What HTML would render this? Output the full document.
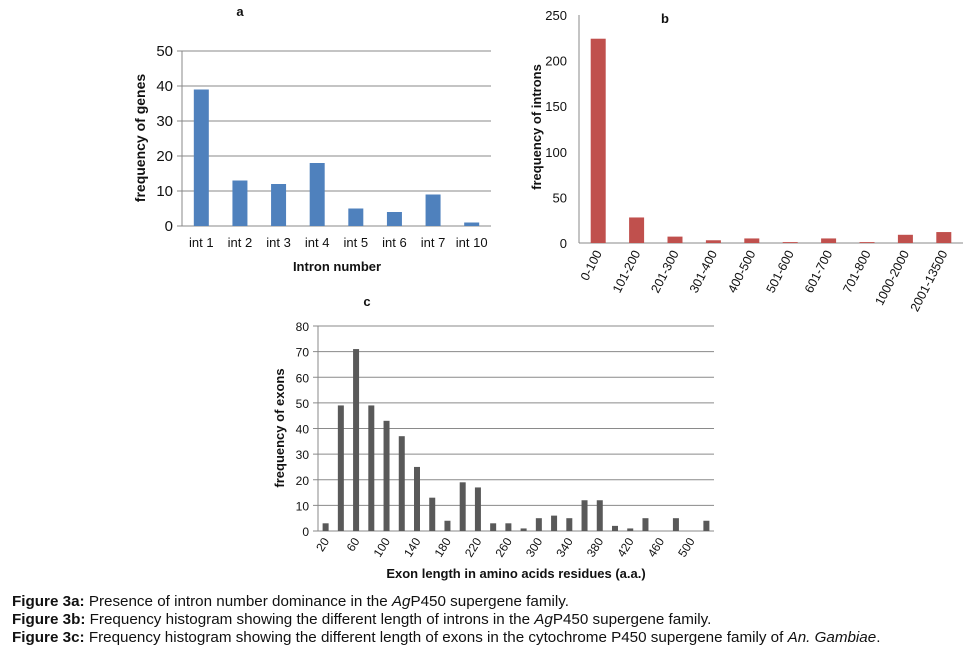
<!DOCTYPE html>
<html><head><meta charset="utf-8"><style>
body{margin:0;width:971px;height:655px;background:#fff;font-family:"Liberation Sans",sans-serif;overflow:hidden}
svg text{font-family:"Liberation Sans",sans-serif}
.cap{position:absolute;left:12px;font-size:15.2px;color:#111;white-space:nowrap}
</style></head><body>
<svg id="s" width="971" height="595" style="position:absolute;left:0;top:0"></svg>
<div class="cap" style="top:593px"><b>Figure 3a:</b> Presence of intron number dominance in the <i>Ag</i>P450 supergene family.</div>
<div class="cap" style="top:611px"><b>Figure 3b:</b> Frequency histogram showing the different length of introns in the <i>Ag</i>P450 supergene family.</div>
<div class="cap" style="top:629px"><b>Figure 3c:</b> Frequency histogram showing the different length of exons in the cytochrome P450 supergene family of <i>An. Gambiae</i>.</div>
<script>
const aCats=["int 1","int 2","int 3","int 4","int 5","int 6","int 7","int 10"];
const aVals=[39,13,12,18,5,4,9,1];
const aTicks=[0,10,20,30,40,50];
const bCats=["0-100","101-200","201-300","301-400","400-500","501-600","601-700","701-800","1000-2000","2001-13500"];
const bVals=[224,28,7,3,5,1,5,1,9,12];
const bTicks=[0,50,100,150,200,250];
const cCats=[20,40,60,80,100,120,140,160,180,200,220,240,260,280,300,320,340,360,380,400,420,440,460,480,500,520];
const cVals=[3,49,71,49,43,37,25,13,4,19,17,3,3,1,5,6,5,12,12,2,1,5,0,5,0,4];
const cTicks=[0,10,20,30,40,50,60,70,80];
const NS="http://www.w3.org/2000/svg";
const svg=document.getElementById('s');
function el(t,a,txt){const e=document.createElementNS(NS,t);for(const k in a)e.setAttribute(k,a[k]);if(txt!=null)e.textContent=txt;svg.appendChild(e);return e;}
function chart(o){
  const y=v=>o.y0-(v/o.max)*(o.y0-o.yTop);
  const slot=(o.x1-o.x0)/o.cats.length;
  const x=i=>o.x0+slot*(i+0.5);
  o.ticks.forEach(t=>{
    if(o.grid&&t>0){const g=el('line',{x1:o.x0-5,x2:o.x1,y1:y(t),y2:y(t),stroke:'#8a8a8a','stroke-width':1});
    }
    const tl=el('text',{x:o.x0-o.tickPad,y:y(t)+5,'text-anchor':'end','font-size':o.tickFs,fill:'#111'},t);
    
  });
  const ax=el('line',{x1:o.x0,x2:o.x0,y1:o.yTop,y2:o.y0,stroke:'#888'});
  
  const bx=el('line',{x1:o.x0-(o.grid?5:0),x2:o.x1,y1:o.y0,y2:o.y0,stroke:'#888'});
  
  o.vals.forEach((v,i)=>{
    const r=el('rect',{x:x(i)-o.bw/2,y:y(v),width:o.bw,height:o.y0-y(v),fill:o.color});
    
  });
  o.cats.forEach((c,i)=>{
    if(o.every&&i%o.every)return;
    let t;
    if(o.rot){const px=x(i)+4,py=o.y0+10;
      t=el('text',{x:px,y:py,'text-anchor':'end','font-size':o.xFs,fill:'#111',transform:`rotate(${o.rot} ${px} ${py})`},c);}
    else t=el('text',{x:x(i),y:o.y0+21,'text-anchor':'middle','font-size':o.xFs,fill:'#111'},c);
    
  });
}
chart({id:'chart-a',cats:aCats,vals:aVals,ticks:aTicks,max:50,x0:182,x1:491,y0:226,yTop:51,bw:15,color:'#4f81bd',grid:true,tickPad:9,tickFs:15,xFs:13});
chart({id:'chart-b',cats:bCats,vals:bVals,ticks:bTicks,max:250,x0:579,x1:963,y0:243,yTop:15,bw:15,color:'#c0504d',grid:false,tickPad:12,tickFs:13,xFs:12.5,rot:-63});
chart({id:'chart-c',cats:cCats,vals:cVals,ticks:cTicks,max:80,x0:318,x1:714,y0:531,yTop:326,bw:6,color:'#595959',grid:true,tickPad:9,tickFs:12,xFs:12,rot:-58,every:2});
function lbl(name,x,y,t,fs,w,rot){const e=el('text',{x,y,'text-anchor':'middle','font-size':fs,'font-weight':w||'bold',fill:'#111',transform:rot?`rotate(-90 ${x} ${y})`:''},t);
}
lbl('chart-a-title',240,16,'a',13);
lbl('chart-a-y-axis-title',145,138,'frequency of genes',14,'bold',true);
lbl('chart-a-x-axis-title',337,271,'Intron number',13);
lbl('chart-b-title',665,23,'b',13);
lbl('chart-b-y-axis-title',541,127,'frequency of introns',13,'bold',true);
lbl('chart-c-title',367,306,'c',13);
lbl('chart-c-y-axis-title',284,428,'frequency of exons',13,'bold',true);
lbl('chart-c-x-axis-title',516,578,'Exon length in amino acids residues (a.a.)',13);
</script>
</body></html>
